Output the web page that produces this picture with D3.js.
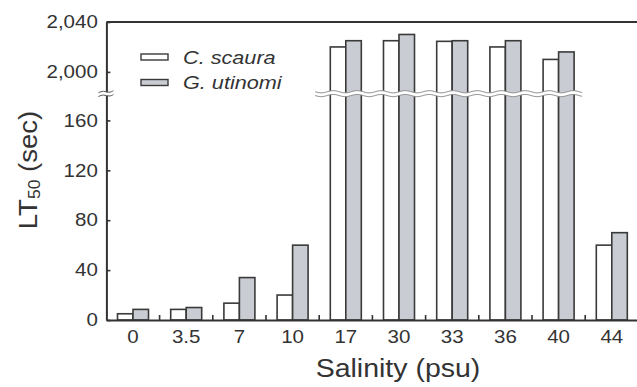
<!DOCTYPE html>
<html>
<head>
<meta charset="utf-8">
<script src="https://cdn.jsdelivr.net/npm/d3@7"></script>
<style>
  body { margin: 0; background: #fff; }
  svg { display: block; font-family: "Liberation Sans", Arial, sans-serif; }
  .tick text { fill: #333; }
</style>
</head>
<body>
<svg id="chart" width="637" height="387"></svg>
<script>
// salinity levels (psu)
var categories = ["0", "3.5", "7", "10", "17", "30", "33", "36", "40", "44"];
// LT50 (sec)
var scaura  = [5, 8.5, 13.5, 20, 2020, 2025, 2024.5, 2020, 2010, 60];
var utinomi = [8.5, 10, 34, 60, 2025, 2030, 2025, 2025, 2016, 70];
var seriesNames = ["C. scaura", "G. utinomi"];
var lowTicks = [0, 40, 80, 120, 160];
var highTicks = [2000, 2040];

var svg = d3.select("#chart");
var ink = "#333";
var plotLeft = 106.4, plotRight = 638.4, plotBottom = 320, plotTop = 22;
var pxPerUnit = 1.2475;
var stretch = "scale(1.14,1)";

var x = d3.scaleBand().domain(categories).range([plotLeft, plotRight]);
var bw = x.bandwidth();
var xs = d3.scaleBand().domain(seriesNames).range([bw / 2 - 15.5, bw / 2 + 15.5]);

// broken y axis: two linear pieces with the same px per unit
var yLow = d3.scaleLinear().domain([0, 180]).range([plotBottom, plotBottom - 180 * pxPerUnit]);
var yHigh = d3.scaleLinear().domain([1984, 2040]).range([plotTop + 56 * pxPerUnit, plotTop]);
function yPos(v) { return v < 1000 ? yLow(v) : yHigh(v); }

var rows = categories.map(function (c, i) {
  return { cat: c, values: [{ s: seriesNames[0], v: scaura[i] }, { s: seriesNames[1], v: utinomi[i] }] };
});
var fills = { "C. scaura": "#ffffff", "G. utinomi": "#c9cdd3" };

//
// bars
//
var g = svg.selectAll(".grp").data(rows).enter().append("g")
  .attr("class", "grp")
  .attr("transform", function (d) { return "translate(" + x(d.cat) + ",0)"; });

g.selectAll("rect").data(function (d) { return d.values; }).enter().append("rect")
  .attr("x", function (d) { return xs(d.s); })
  .attr("width", xs.bandwidth())
  .attr("y", function (d) { return yPos(d.v); })
  .attr("height", function (d) { return plotBottom - yPos(d.v); })
  .style("fill", function (d) { return fills[d.s]; })
  .style("stroke", "#3a3a3a")
  .style("stroke-width", 1.6);

//
// wavy break band across the tall bars
//
var breakMid = (yLow.range()[1] + yHigh.range()[0]) / 2;
var tall = rows.filter(function (d) { return d.values[0].v > 1000; });
var bx0 = x(tall[0].cat) - 4, bx1 = x(tall[tall.length - 1].cat) + bw - 3;
function wave(off, x0, x1) {
  return d3.range(x0, x1 + 0.1, 1).map(function (px) {
    return [px, breakMid + off + 1.1 * Math.sin((px - x0) / 24 * 2 * Math.PI)];
  });
}
var upper = wave(-1.9, bx0, bx1), lower = wave(1.9, bx0, bx1);
svg.append("path")
  .attr("d", d3.line()(upper.concat(lower.slice().reverse())) + "Z")
  .style("fill", "#fff");
[upper, lower].forEach(function (p) {
  svg.append("path").attr("d", d3.line()(p))
    .style("fill", "none").style("stroke", "#8a8a8a").style("stroke-width", 1);
});

//
// axes
//
function styleAxis(sel) {
  sel.select(".domain").style("stroke", ink).style("stroke-width", 2);
  sel.selectAll(".tick line").style("stroke", ink).style("stroke-width", 1.6);
  sel.selectAll(".tick text").style("font-size", "18px").attr("transform", stretch);
}

var fmt = d3.format(",");
svg.append("g").attr("transform", "translate(" + plotLeft + ",0)")
  .call(d3.axisLeft(yLow).tickValues(lowTicks).tickSizeInner(-4).tickSizeOuter(0).tickPadding(7.5).tickFormat(fmt))
  .call(styleAxis);
svg.append("g").attr("transform", "translate(" + plotLeft + ",0)")
  .call(d3.axisLeft(yHigh).tickValues(highTicks).tickSizeInner(-4).tickSizeOuter(0).tickPadding(7.5).tickFormat(fmt))
  .call(styleAxis);

// break mark on y axis
[-1.9, 1.9].forEach(function (off) {
  svg.append("path")
    .attr("d", d3.line().curve(d3.curveBasis)([
      [plotLeft - 8, breakMid + off + 1], [plotLeft - 3, breakMid + off - 1.2],
      [plotLeft + 3, breakMid + off + 1.2], [plotLeft + 7, breakMid + off - 1]
    ]))
    .style("fill", "none").style("stroke", "#555").style("stroke-width", 1);
});

var xAxis = svg.append("g").attr("transform", "translate(0," + plotBottom + ")")
  .call(d3.axisBottom(x).tickSize(0).tickPadding(10))
  .call(styleAxis);
xAxis.selectAll(".tick text").attr("dy", "0.71em");

// inward ticks at group boundaries
svg.selectAll(".btick").data(categories.slice(1)).enter().append("line")
  .attr("x1", function (d) { return x(d); }).attr("x2", function (d) { return x(d); })
  .attr("y1", plotBottom).attr("y2", plotBottom - 5)
  .style("stroke", ink).style("stroke-width", 1.6);

// top and right frame
svg.append("path")
  .attr("d", "M" + plotLeft + "," + plotTop + "H" + plotRight + "V" + plotBottom)
  .style("fill", "none").style("stroke", ink).style("stroke-width", 2);

//
// axis titles
//
svg.append("text")
  .attr("transform", "translate(398,376.5) " + stretch)
  .attr("text-anchor", "middle")
  .style("font-size", "25px").style("fill", ink)
  .text("Salinity (psu)");

var yt = svg.append("text")
  .attr("transform", "translate(37,170) rotate(-90) scale(1.1,1)")
  .attr("text-anchor", "middle")
  .style("font-size", "25px").style("fill", ink);
yt.append("tspan").text("LT");
yt.append("tspan").attr("dy", 3).style("font-size", "16px").text("50");
yt.append("tspan").attr("dy", -3).text(" (sec)");

//
// legend
//
var leg = svg.selectAll(".leg").data(seriesNames).enter().append("g")
  .attr("class", "leg")
  .attr("transform", function (d, i) { return "translate(141," + (54 + i * 25.5) + ")"; });
leg.append("rect")
  .attr("width", 27).attr("height", 6)
  .style("fill", function (d) { return fills[d]; })
  .style("stroke", "#3a3a3a").style("stroke-width", 1.4);
leg.append("text")
  .attr("transform", "translate(42,9.5) " + stretch)
  .style("font-size", "19px").style("font-style", "italic").style("fill", ink)
  .text(function (d) { return d; });
</script>
</body>
</html>
